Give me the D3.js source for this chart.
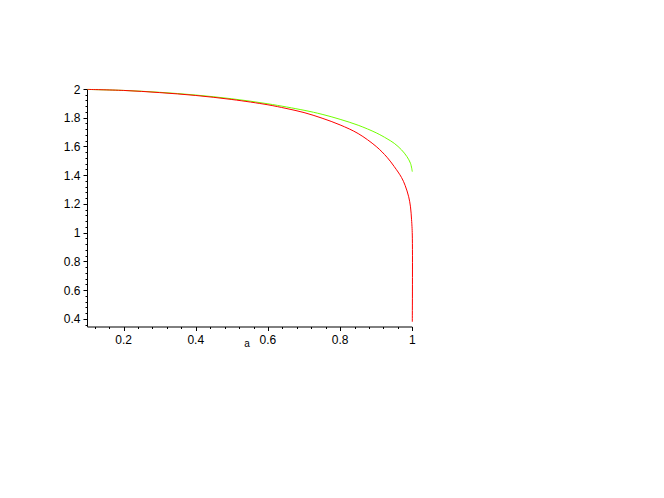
<!DOCTYPE html>
<html><head><meta charset="utf-8">
<script src="https://cdn.jsdelivr.net/npm/d3@7"></script>
<style>body{margin:0;background:#fff}svg{display:block}text{font-family:"Liberation Sans",Arial,sans-serif}</style>
</head><body>
<svg id="c" width="664" height="498"></svg>
<script>
const redA = [0.1,0.2,0.3,0.4,0.5,0.6,0.65,0.7,0.75,0.8,0.85,0.9,0.93,0.95,0.97,0.98,0.99,0.995,0.998,1.0,1.0];
const redV = [1.997,1.990,1.975,1.955,1.927,1.890,1.865,1.836,1.797,1.750,1.690,1.600,1.525,1.460,1.385,1.330,1.250,1.180,1.090,0.984,0.381];
const greenA = [0.1,0.2,0.3,0.4,0.5,0.6,0.7,0.75,0.8,0.85,0.9,0.93,0.95,0.97,0.985,0.995,1.0];
const greenV = [1.997,1.990,1.977,1.958,1.932,1.897,1.852,1.824,1.789,1.748,1.695,1.654,1.622,1.577,1.530,1.483,1.425];
const xTicks = [0.2,0.4,0.6,0.8,1];
const yTicks = [0.4,0.6,0.8,1,1.2,1.4,1.6,1.8,2];
const xLabel = "a";

const svg = d3.select("#c");
const x = d3.scaleLinear().domain([0.1,1]).range([87.5,412.3]);
const y = d3.scaleLinear().domain([0.345,2]).range([326.9,89]);

const xMinor = d3.range(0.12,1.0001,0.04);
const yMinor = d3.range(0.36,2.0001,0.04);
const xa = svg.append("g").attr("transform","translate(0,327)");
xa.append("line").attr("x1",x(0.1)).attr("x2",x(1)).attr("stroke","#000");
xa.selectAll(".mn").data(xMinor).join("line").attr("x1",d=>Math.round(x(d))+0.5).attr("x2",d=>Math.round(x(d))+0.5).attr("y1",0).attr("y2",2).attr("stroke","#000");
xa.selectAll(".mj").data(xTicks).join("line").attr("x1",d=>Math.round(x(d))+0.5).attr("x2",d=>Math.round(x(d))+0.5).attr("y1",0).attr("y2",4).attr("stroke","#000");
xa.selectAll("text").data(xTicks).join("text").attr("x",d=>x(d)).attr("y",17).attr("text-anchor","middle").attr("font-size",12).text(d=>d3.format("~g")(d));
svg.append("text").attr("x",247).attr("y",347).attr("text-anchor","middle").attr("font-size",10).text(xLabel);

const ya = svg.append("g").attr("transform","translate(87.5,0)");
ya.append("line").attr("y1",y(0.345)).attr("y2",y(2)).attr("stroke","#000");
ya.selectAll(".mn").data(yMinor).join("line").attr("y1",d=>Math.round(y(d))+0.5).attr("y2",d=>Math.round(y(d))+0.5).attr("x1",0).attr("x2",-2).attr("stroke","#000");
ya.selectAll(".mj").data(yTicks).join("line").attr("y1",d=>Math.round(y(d))+0.5).attr("y2",d=>Math.round(y(d))+0.5).attr("x1",0).attr("x2",-4).attr("stroke","#000");
ya.selectAll("text").data(yTicks).join("text").attr("x",-7).attr("y",d=>y(d)+4.5).attr("text-anchor","end").attr("font-size",12).text(d=>d3.format("~g")(d));

const line = d3.line().x(d=>x(d[0])).y(d=>y(d[1])).curve(d3.curveCatmullRom.alpha(0.5));
svg.append("path").datum(greenA.map((a,i)=>[a,greenV[i]])).attr("d",line).attr("fill","none").attr("stroke","#70ff00").attr("stroke-width",1);
svg.append("path").datum(redA.map((a,i)=>[a,redV[i]])).attr("d",line).attr("fill","none").attr("stroke","#ff0000").attr("stroke-width",1);
</script>
</body></html>
